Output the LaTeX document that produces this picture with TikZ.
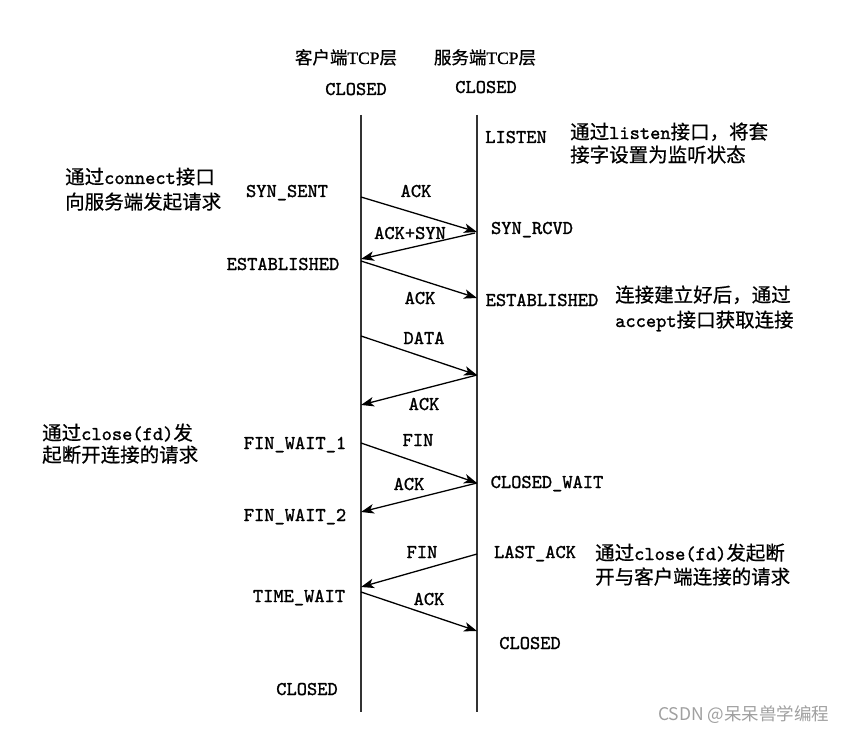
\documentclass[tikz,border=0pt]{standalone}
\usepackage{fontspec}
\newfontfamily\cjk{Noto Sans CJK SC}[FakeBold=0.6]
\newfontfamily\cjkwm{Noto Sans CJK SC}
\newfontfamily\lbltt{lmmono10-regular.otf}[FakeBold=1.3]
\newfontfamily\ttlserif{Liberation Serif}[FakeBold=0.8]
\usetikzlibrary{arrows.meta}
\definecolor{lifegray}{HTML}{333333}
\definecolor{wmgray}{HTML}{A0A0A0}
\newcommand{\lblfont}{\lbltt\fontsize{19.5}{24}\selectfont}
\newcommand{\ttlfont}{\fontsize{17.5}{22}\selectfont}
\tikzset{
  lbl/.style={inner sep=0pt, anchor=base, font=\lblfont},
  note/.style={inner sep=0pt, anchor=base west, font=\lblfont},
  ttl/.style={inner sep=0pt, anchor=base, font=\ttlfont},
  life/.style={draw=lifegray, line width=1.5pt},
  msg/.style={line width=1.3pt, -{Stealth[length=13pt,width=9.5pt,inset=3.5pt]}},
}
\begin{document}
\begin{tikzpicture}[x=1pt,y=-1pt]
\useasboundingbox[fill=white] (0,0) rectangle (864,735);

% titles
\node[ttl] (tc) at (346,64) {{\cjk 客户端}{\ttlserif TCP}{\cjk 层}};
\node[ttl] (ts) at (485,64) {{\cjk 服务端}{\ttlserif TCP}{\cjk 层}};
\node[lbl] (cc0) at (356,95) {CLOSED};
\node[lbl] (sc0) at (486,93) {CLOSED};

% lifelines
\coordinate (ctop) at (361,115);
\coordinate (cbot) at (361,712);
\coordinate (stop) at (477,115);
\coordinate (sbot) at (477,712);
\draw[life] (ctop) -- (cbot);
\draw[life] (stop) -- (sbot);

% client states
\node[lbl] (synsent) at (287,197) {SYN\_SENT};
\node[lbl] (cest) at (283,270) {ESTABLISHED};
\node[lbl] (fw1) at (295,449) {FIN\_WAIT\_1};
\node[lbl] (fw2) at (295,521) {FIN\_WAIT\_2};
\node[lbl] (tw) at (299,602) {TIME\_WAIT};
\node[lbl] (cc1) at (307,695) {CLOSED};

% server states
\node[lbl] (listen) at (516,143) {LISTEN};
\node[lbl] (synrcvd) at (532,234) {SYN\_RCVD};
\node[lbl] (sest) at (542,306) {ESTABLISHED};
\node[lbl] (cw) at (547,488) {CLOSED\_WAIT};
\node[lbl] (lack) at (535,558) {LAST\_ACK};
\node[lbl] (sc1) at (530,649) {CLOSED};

% message endpoints
\coordinate (a1) at (361,197); \coordinate (b1) at (477,232);
\coordinate (b2) at (475,233); \coordinate (a2) at (361,259);
\coordinate (a3) at (361,261); \coordinate (b3) at (477,298);
\coordinate (a4) at (361,336); \coordinate (b4) at (477,375);
\coordinate (b5) at (477,375); \coordinate (a5) at (361,405);
\coordinate (a6) at (361,443); \coordinate (b6) at (477,483);
\coordinate (b7) at (477,483); \coordinate (a7) at (361,512);
\coordinate (b8) at (477,554); \coordinate (a8) at (361,587);
\coordinate (a9) at (361,592); \coordinate (b9) at (477,631);

\draw[msg] (a1) -- (b1);
\draw[msg] (b2) -- (a2);
\draw[msg] (a3) -- (b3);
\draw[msg] (a4) -- (b4);
\draw[msg] (b5) -- (a5);
\draw[msg] (a6) -- (b6);
\draw[msg] (b7) -- (a7);
\draw[msg] (b8) -- (a8);
\draw[msg] (a9) -- (b9);

% message labels
\node[lbl] (m1) at (416,197) {ACK};
\node[lbl] (m2) at (410,239) {ACK+SYN};
\node[lbl] (m3) at (420,304) {ACK};
\node[lbl] (m4) at (424,344) {DATA};
\node[lbl] (m5) at (424,410) {ACK};
\node[lbl] (m6) at (418,446) {FIN};
\node[lbl] (m7) at (409,490) {ACK};
\node[lbl] (m8) at (422,558) {FIN};
\node[lbl] (m9) at (429,605) {ACK};

% notes
\node[note] (n1a) at (65,184) {{\cjk 通过}connect{\cjk 接口}};
\node[note] (n1b) at (65,209) {{\cjk 向服务端发起请求}};
\node[note] (n2a) at (42,440) {{\cjk 通过}close(fd){\cjk 发}};
\node[note] (n2b) at (42,462) {{\cjk 起断开连接的请求}};
\node[note] (n3a) at (570,139) {{\cjk 通过}listen{\cjk 接口，将套}};
\node[note] (n3b) at (570,162) {{\cjk 接字设置为监听状态}};
\node[note] (n4a) at (615,302) {{\cjk 连接建立好后，通过}};
\node[note] (n4b) at (615,327) {accept{\cjk 接口获取连接}};
\node[note] (n5a) at (595,560) {{\cjk 通过}close(fd){\cjk 发起断}};
\node[note] (n5b) at (595,584) {{\cjk 开与客户端连接的请求}};

% watermark
\node[inner sep=0pt, anchor=base west, text=wmgray, font=\cjkwm\fontsize{17.5}{20}\selectfont] (wm) at (658,720) {CSDN @呆呆兽学编程};
\end{tikzpicture}
\end{document}
